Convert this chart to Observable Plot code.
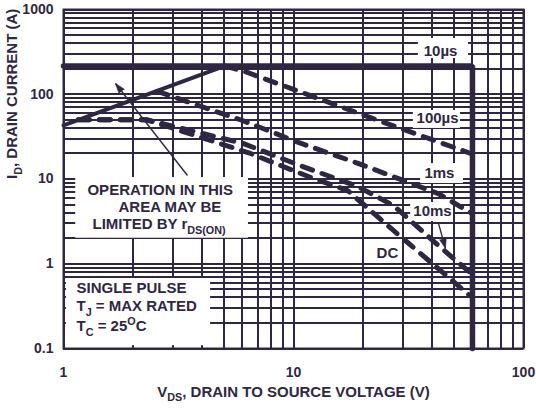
<!DOCTYPE html>
<html><head><meta charset="utf-8">
<script src="https://cdn.jsdelivr.net/npm/d3@7"></script>
<script src="https://cdn.jsdelivr.net/npm/@observablehq/plot@0.6"></script>
<style>
body{margin:0;background:#fff;}
svg{font-family:"Liberation Sans",Arial,Helvetica,sans-serif;}
g[aria-label="rule"] line, g[aria-label="frame"] rect{shape-rendering:crispEdges;}
</style></head><body><div id="chart"></div>
<script>
const ink = "#2f2742";

// ticks and grid
const xTicks = [1, 10, 100];
const yTicks = [0.1, 1, 10, 100, 1000];
const xGrid = [1,2,3,4,5,6,7,8,9,10,20,30,40,50,60,70,80,90,100];
const yGrid = [0.1,0.2,0.3,0.4,0.5,0.6,0.7,0.8,0.9,1,2,3,4,5,6,7,8,9,10,20,30,40,50,60,70,80,90,100,200,300,400,500,600,700,800,900,1000];

// solid limits (V, A)
const rdsV = [1, 5.0];
const rdsI = [43, 215];
const limV = [1, 60, 60];
const limI = [215, 215, 0.1];

// dashed pulse curves (V, A)
const us100V = [5.06, 6.3, 21.6, 59];
const us100I = [215, 181, 53, 20];
const ms1V = [2.56, 6.0, 10.5, 19.2, 28.6, 42.7, 59];
const ms1I = [108, 49, 27, 15.2, 10.1, 6.7, 4.0];
const ms10V = [1.16, 2.3, 6.06, 10.7, 19.0, 27.2, 43.6, 58.5];
const ms10I = [50, 50, 26.2, 14.4, 8.15, 4.87, 1.56, 0.79];
const dcV = [1.16, 2.3, 6.5, 11.6, 17.2, 19.95, 27.2, 43.6, 58.5];
const dcI = [50, 50, 20.0, 10.7, 7.3, 5.14, 2.47, 0.83, 0.42];

// annotation labels
const curveLabels = ["10µs", "100µs", "1ms", "10ms", "DC"];
const curveLabelV = [43.6, 42.3, 43.1, 40.2, 25.6];
const curveLabelI = [319, 52.5, 11.6, 4.14, 1.34];
const noteLines = ["OPERATION IN THIS", "AREA MAY BE", "LIMITED BY r_{DS(ON)}", "SINGLE PULSE", "T_{J} = MAX RATED", "T_{C} = 25^{O}C"];
const noteV = [1.271, 1.734, 1.337, 1.139, 1.139, 1.139];
const noteI = [7.42, 4.61, 2.90, 0.511, 0.313, 0.182];

// white label boxes (V1, V2, I1, I2)
const boxV1 = [34.9, 33.2, 35.7, 32.3, 1.13, 1.03];
const boxV2 = [57.7, 53.2, 54.8, 49.6, 6.37, 4.36];
const boxI1 = [264, 39.5, 8.85, 3.15, 2.0, 0.108];
const boxI2 = [455, 64.3, 15.2, 5.28, 10.4, 0.67];

// arrows: tail (V, A) -> tip (V, A)
const arrowV1 = [3.46, 42.7];
const arrowI1 = [11.0, 2.99];
const arrowV2 = [1.683, 45.8];
const arrowI2 = [134, 1.51];
const arrowRotate = [-38, 165];

const xTitle = "V_{DS}, DRAIN TO SOURCE VOLTAGE (V)";
const yTitle = "I_{D}, DRAIN CURRENT (A)";

const zip = (xs, ys) => xs.map((x, i) => ({x, y: ys[i]}));
const boxes = boxV1.map((v, i) => ({x1: v, x2: boxV2[i], y1: boxI1[i], y2: boxI2[i]}));
const arrows = arrowV1.map((v, i) => ({x1: v, y1: arrowI1[i], x2: arrowV2[i], y2: arrowI2[i], r: arrowRotate[i]}));
const dashed = {stroke: ink, strokeWidth: 5, strokeDasharray: "11,10", x: "x", y: "y"};

const chart = Plot.plot({
  width: 536, height: 408,
  marginLeft: 63, marginRight: 13, marginTop: 9, marginBottom: 60,
  x: {type: "log", domain: [1, 100]},
  y: {type: "log", domain: [0.1, 1000]},
  style: {background: "white", color: ink, fontFamily: '"Liberation Sans",Arial,sans-serif', overflow: "visible"},
  marks: [
    Plot.ruleX(xGrid, {stroke: ink, strokeWidth: 2, strokeOpacity: 1}),
    Plot.ruleY(yGrid, {stroke: ink, strokeWidth: 2, strokeOpacity: 1}),
    Plot.rect(boxes, {x1: "x1", x2: "x2", y1: "y1", y2: "y2", fill: "white"}),
    Plot.frame({stroke: ink, strokeWidth: 2}),
    Plot.line(zip(us100V, us100I), dashed),
    Plot.line(zip(ms1V, ms1I), dashed),
    Plot.line(zip(ms10V, ms10I), dashed),
    Plot.line(zip(dcV, dcI), dashed),
    Plot.line(zip(rdsV, rdsI), {x: "x", y: "y", stroke: ink, strokeWidth: 4}),
    Plot.line(zip(limV, limI), {x: "x", y: "y", stroke: ink, strokeWidth: 5.5, strokeLinejoin: "miter"}),
    Plot.link(arrows, {x1: "x1", y1: "y1", x2: "x2", y2: "y2", stroke: ink, strokeWidth: 1.4}),
    Plot.vector(arrows, {x: "x2", y: "y2", rotate: "r", length: 10, r: 3.5, shape: "spike", anchor: "end", fill: ink, stroke: ink, strokeWidth: 0.5}),
    Plot.axisX({ticks: xTicks, tickSize: 0, tickPadding: 19, tickFormat: d3.format("~g"), fontSize: 14, fontWeight: "bold", label: null}),
    Plot.axisY({ticks: yTicks, tickSize: 0, tickPadding: 10, tickFormat: d3.format("~g"), fontSize: 14, fontWeight: "bold", label: null}),
    Plot.text(curveLabels, {x: (d, i) => curveLabelV[i], y: (d, i) => curveLabelI[i], text: d => d, fontSize: 15, fontWeight: "bold", fill: ink}),
    Plot.text(noteLines, {x: (d, i) => noteV[i], y: (d, i) => noteI[i], text: d => d, textAnchor: "start", fontSize: 15, fontWeight: "bold", fill: ink}),
    Plot.text([xTitle], {frameAnchor: "bottom", dy: 48, text: d => d, fontSize: 15, fontWeight: "bold", fill: ink}),
    Plot.text([yTitle], {frameAnchor: "left", dx: -51, rotate: -90, text: d => d, fontSize: 15, fontWeight: "bold", fill: ink})
  ]
});
document.getElementById("chart").appendChild(chart);

// turn _{..} and ^{..} into sub/superscript tspans
d3.select(chart).selectAll("text").each(function() {
  const s = this.textContent;
  if (!/[_^]\{/.test(s)) return;
  const fs = parseFloat(getComputedStyle(this).fontSize) || 15;
  const el = d3.select(this);
  el.text(null);
  const re = /([_^])\{([^}]*)\}|([^_^]+)/g;
  let m, cur = 0;
  while ((m = re.exec(s))) {
    let off, txt, size = null;
    if (m[3]) { off = 0; txt = m[3]; }
    else { off = m[1] === "_" ? fs * 0.3 : -fs * 0.42; txt = m[2]; size = fs * 0.72; }
    const t = el.append("tspan").text(txt);
    if (size) t.attr("font-size", size);
    if (off !== cur) t.attr("dy", off - cur);
    cur = off;
  }
});
</script></body></html>
